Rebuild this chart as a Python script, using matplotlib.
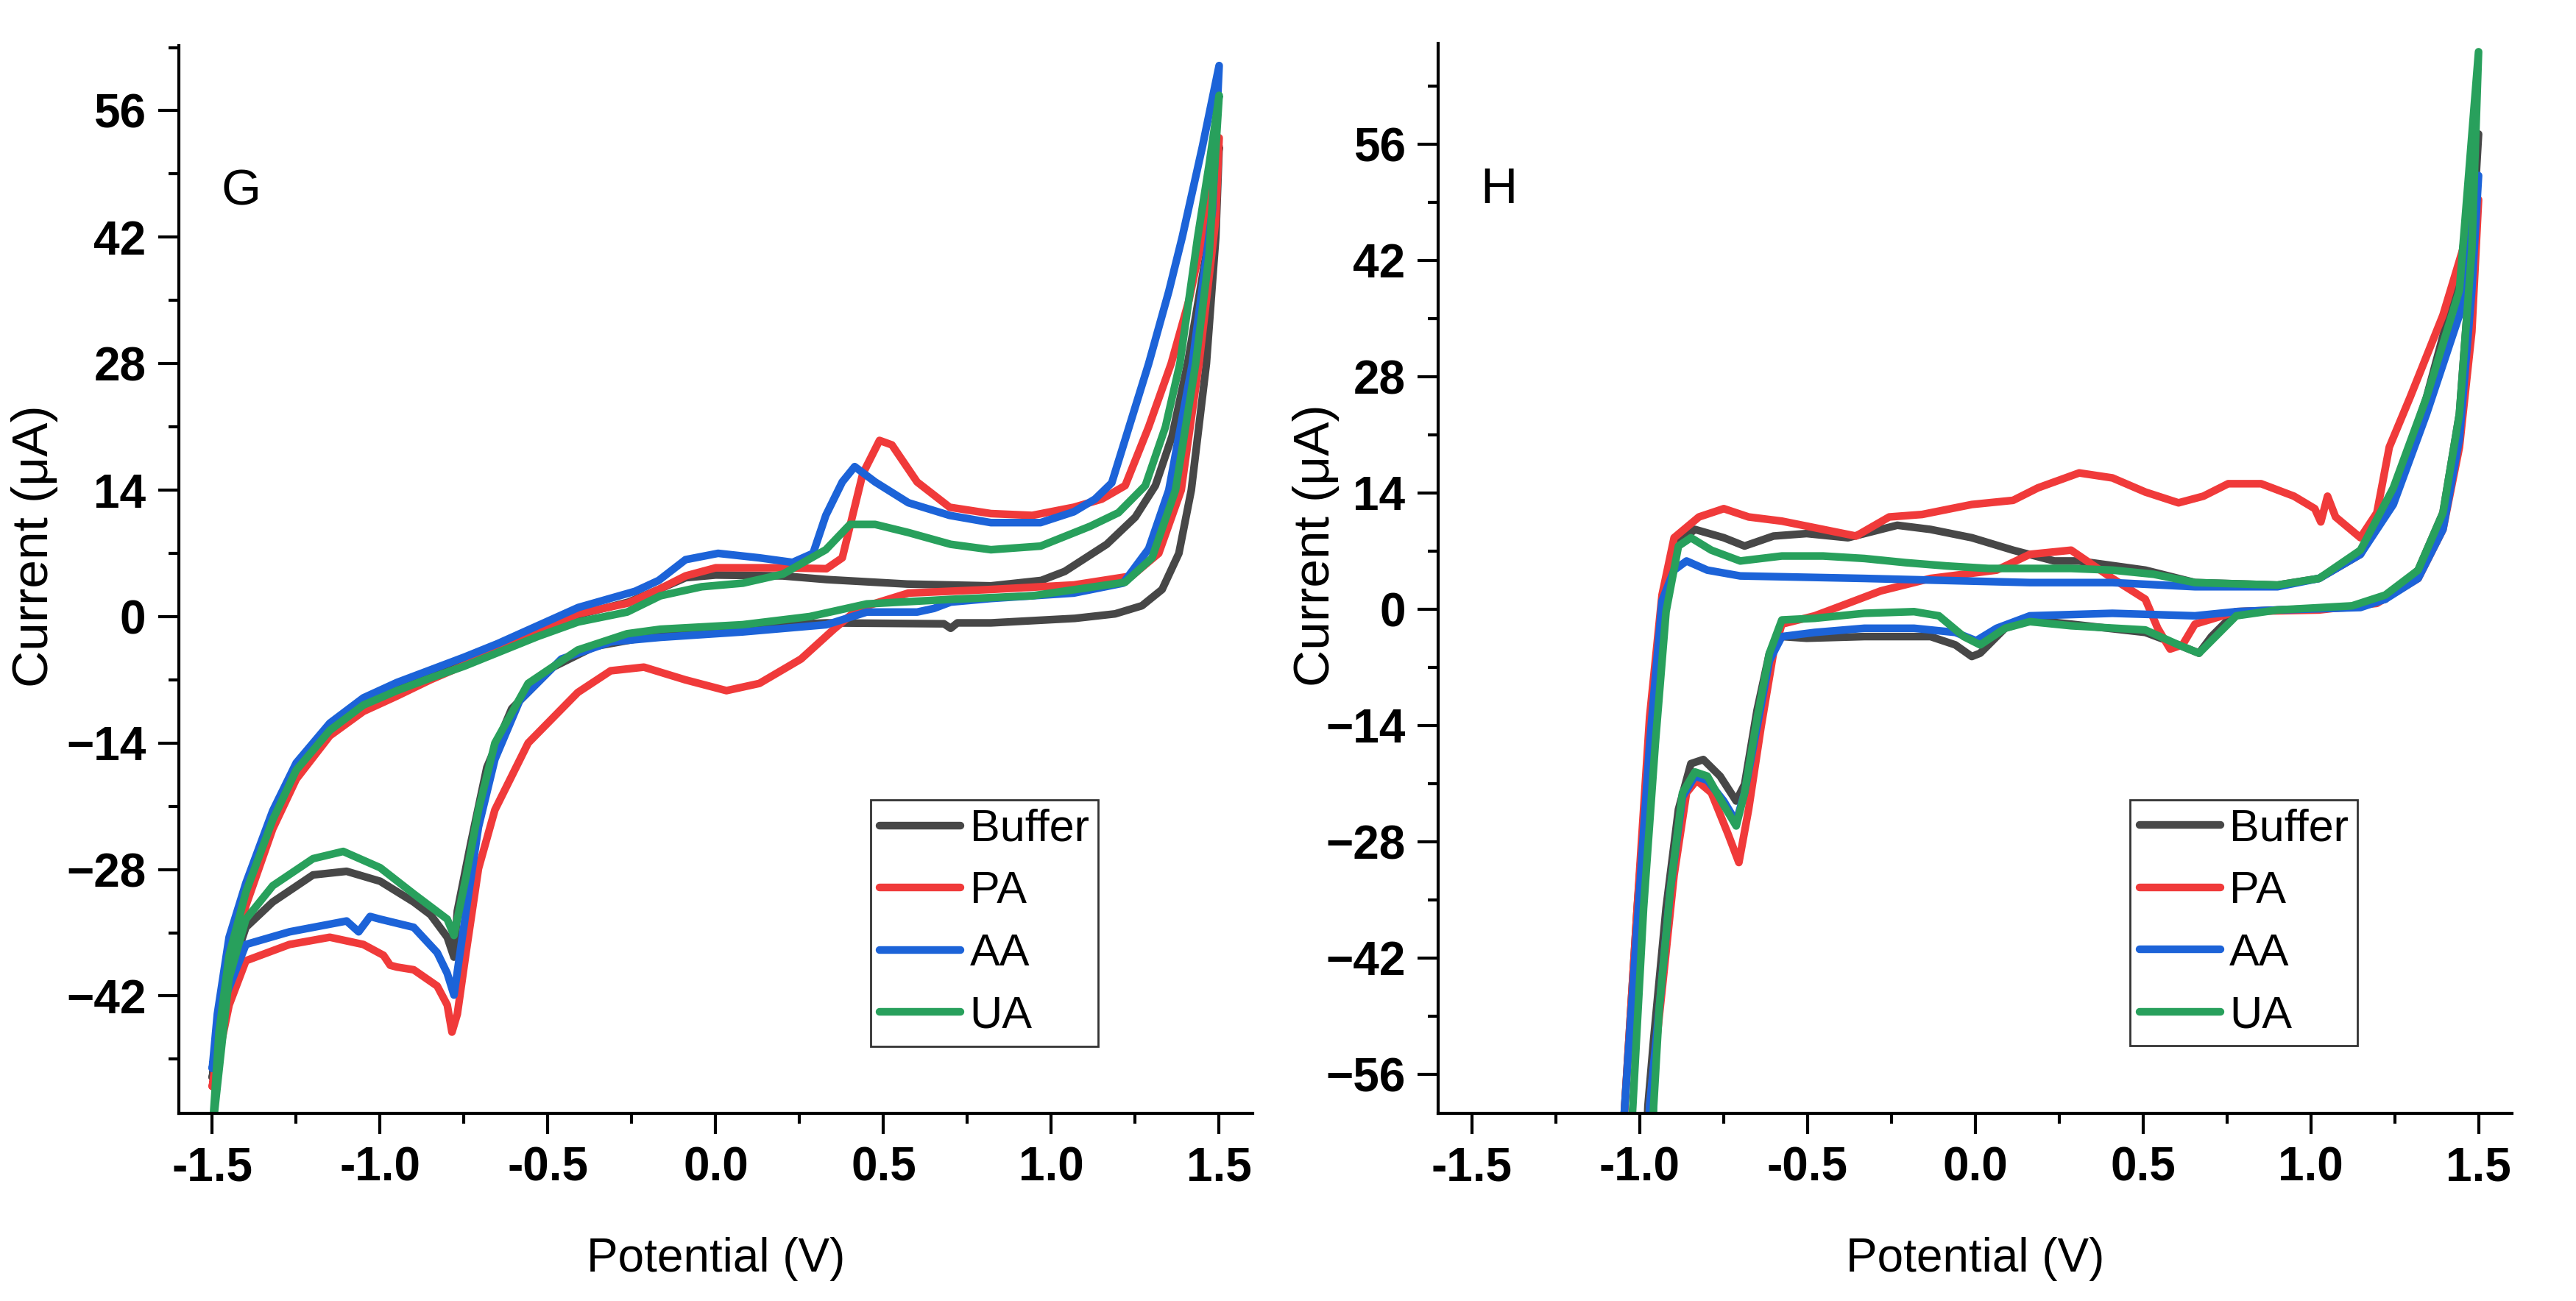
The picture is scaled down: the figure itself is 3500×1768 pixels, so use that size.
import matplotlib.pyplot as plt
from matplotlib.ticker import MultipleLocator, FormatStrFormatter

plt.rcParams['font.family'] = ['Liberation Sans Narrow', 'Liberation Sans', 'DejaVu Sans']

# ---- panel G : (potential V, current uA), traced as a closed loop ----
g_buffer_v = [-1.5, -1.48, -1.45, -1.4, -1.32, -1.25, -1.15, -1.05, -0.95, -0.85, -0.75, -0.65, -0.53, -0.41, -0.26,
              -0.17, -0.09, 0.0, 0.2, 0.33, 0.57, 0.82, 0.97, 1.04, 1.165, 1.25, 1.31, 1.36, 1.406, 1.47, 1.5,
              1.49, 1.462, 1.417, 1.38, 1.33, 1.27, 1.19, 1.07, 0.82, 0.72, 0.70, 0.68, 0.33, 0.08, -0.04,
              -0.21, -0.36, -0.485, -0.608, -0.682, -0.73, -0.77, -0.78, -0.8, -0.85, -0.90, -1.0, -1.10, -1.2,
              -1.32, -1.40, -1.45, -1.5]
g_buffer_i = [-51, -46, -38.5, -31, -22.5, -17, -12.4, -9.6, -7.8, -6.4, -5.0, -3.5, -1.6, 0.2, 1.6,
              3.0, 4.3, 4.6, 4.5, 4.1, 3.6, 3.4, 4.0, 5.0, 8.0, 11.0, 14.5, 20, 28, 42, 52,
              42, 28, 14, 7, 3.0, 1.2, 0.3, -0.2, -0.7, -0.7, -1.3, -0.8, -0.7, -1.1, -1.4,
              -2.3, -3.3, -5.6, -10.2, -16.7, -25.1, -32.6, -37.7, -35.5, -33, -31.6, -29.3, -28.2, -28.6,
              -31.6, -34.4, -40, -51]

g_pa_v = [-1.5, -1.48, -1.45, -1.4, -1.32, -1.25, -1.15, -1.05, -0.95, -0.85, -0.75, -0.65, -0.53, -0.41, -0.26,
          -0.17, -0.09, 0.0, 0.2, 0.33, 0.377, 0.438, 0.488, 0.525, 0.6, 0.697, 0.82, 0.943, 1.067, 1.15,
          1.22, 1.29, 1.357, 1.41, 1.45, 1.5,
          1.49, 1.44, 1.387, 1.32, 1.24, 1.067, 0.82, 0.574, 0.426, 0.352, 0.254, 0.13, 0.032, -0.091,
          -0.214, -0.313, -0.411, -0.559, -0.658, -0.707, -0.744, -0.77, -0.786, -0.80, -0.83, -0.90, -0.95,
          -0.97, -0.99, -1.05, -1.15, -1.27, -1.4, -1.45, -1.5]
g_pa_i = [-52, -47, -40, -32, -23.5, -18, -13.2, -10.5, -8.8, -7.0, -5.4, -3.6, -1.6, 0.3, 1.5,
          3.0, 4.5, 5.4, 5.4, 5.3, 6.5, 15.8, 19.5, 19, 14.9, 12.1, 11.4, 11.2, 12.1, 13.0,
          14.5, 21, 28, 35, 42, 53,
          44, 28, 14, 7, 4.5, 3.5, 3.0, 2.6, 0.9, -1.4, -4.7, -7.4, -8.2, -7.0,
          -5.6, -6.0, -8.4, -14, -21.4, -27.9, -37.2, -44, -46, -43, -40.9, -39.1, -38.8,
          -38.6, -37.5, -36.3, -35.5, -36.3, -38.1, -43, -52]

g_aa_v = [-1.5, -1.485, -1.45, -1.4, -1.32, -1.25, -1.15, -1.05, -0.95, -0.85, -0.75, -0.65, -0.53, -0.41, -0.24,
          -0.17, -0.09, 0.007, 0.13, 0.229, 0.29, 0.328, 0.377, 0.414, 0.475, 0.574, 0.697, 0.82, 0.968, 1.067,
          1.13, 1.18, 1.24, 1.29, 1.35, 1.39, 1.45, 1.5,
          1.48, 1.42, 1.35, 1.29, 1.214, 1.067, 0.82, 0.70, 0.65, 0.60, 0.45, 0.33, 0.08, -0.165, -0.313,
          -0.46, -0.584, -0.658, -0.707, -0.744, -0.78, -0.80, -0.83, -0.90, -1.0, -1.03, -1.064, -1.10, -1.27,
          -1.40, -1.46, -1.5]
g_aa_i = [-50, -44, -35.5, -29.5, -21.5, -16.2, -11.8, -9.0, -7.3, -5.9, -4.5, -3.0, -1.0, 1.0, 2.8,
          4.0, 6.3, 7.0, 6.5, 6.0, 7, 11.2, 14.9, 16.6, 14.9, 12.6, 11.2, 10.4, 10.4, 11.6,
          13, 14.8, 22, 28, 36, 42, 52, 61,
          45, 28, 14, 7.5, 3.7, 2.6, 2.0, 1.6, 0.9, 0.5, 0.5, -0.9, -1.7, -2.3, -2.8,
          -4.7, -9.3, -15.8, -23.3, -32.6, -41.9, -39.5, -37.2, -34.4, -33.5, -33.2, -34.9, -33.7, -34.9,
          -36.3, -42, -50]

g_ua_v = [-1.5, -1.48, -1.45, -1.4, -1.32, -1.25, -1.15, -1.05, -0.95, -0.85, -0.75, -0.65, -0.53, -0.41, -0.264,
          -0.165, -0.042, 0.081, 0.2, 0.328, 0.4, 0.475, 0.574, 0.70, 0.82, 0.968, 1.116, 1.2, 1.28, 1.34, 1.383,
          1.436, 1.47, 1.5,
          1.47, 1.43, 1.37, 1.30, 1.22, 0.943, 0.697, 0.45, 0.28, 0.08, -0.165, -0.264, -0.411, -0.559,
          -0.658, -0.707, -0.744, -0.78, -0.80, -0.90, -1.0, -1.11, -1.2, -1.32, -1.40, -1.45, -1.5]
g_ua_i = [-57, -46, -37.5, -30.5, -22.5, -17, -12.6, -9.8, -8.2, -6.8, -5.5, -4.0, -2.2, -0.6, 0.5,
          2.3, 3.3, 3.7, 4.7, 7.4, 10.2, 10.2, 9.3, 8.0, 7.4, 7.8, 10.0, 11.5, 14.5, 21, 28,
          42, 50, 57.7,
          40, 28, 14, 6.5, 3.8, 2.3, 1.9, 1.4, 0, -0.9, -1.4, -1.9, -3.7, -7.4,
          -14, -21.4, -28.8, -35.3, -33.5, -30.7, -27.8, -26, -26.8, -29.8, -33.5, -40, -57]

# ---- panel H ----
h_buffer_v = [-1.06, -1.044, -1.007, -0.97, -0.933, -0.897, -0.835, -0.749, -0.687, -0.601, -0.502, -0.379, -0.232,
              -0.133, -0.01, 0.113, 0.236, 0.31, 0.507, 0.655, 0.901, 1.025, 1.148, 1.246, 1.345, 1.443, 1.5,
              1.48, 1.443, 1.394, 1.32, 1.222, 1.123, 0.90, 0.778, 0.704, 0.667, 0.606, 0.507, 0.286, 0.163,
              0.089, 0.015, -0.01, -0.059, -0.133, -0.33, -0.502, -0.576, -0.613, -0.65, -0.687, -0.712, -0.76,
              -0.81, -0.847, -0.884, -0.921, -0.958, -0.975, -0.985]
h_buffer_i = [-70, -59.8, -36, -16.2, -1.3, 7.6, 9.6, 8.6, 7.6, 8.8, 9.1, 8.6, 10.1,
              9.6, 8.6, 7.1, 5.8, 5.8, 4.7, 3.2, 2.9, 3.7, 6.6, 13.6, 25.5, 40.3, 57.2,
              43.3, 23.5, 11.6, 4.7, 1.2, 0.2, -0.1, -0.3, -3.3, -5.3, -4.3, -2.8, -1.8, -1.3,
              -2.3, -5.3, -5.7, -4.3, -3.3, -3.3, -3.5, -3.3, -5.3, -12.2, -21.1, -23.1, -20.1,
              -18.1, -18.6, -24.1, -36, -51.8, -59.8, -70]

h_pa_v = [-1.06, -1.044, -1.007, -0.97, -0.933, -0.897, -0.823, -0.749, -0.675, -0.576, -0.453, -0.355, -0.256,
          -0.158, -0.01, 0.113, 0.187, 0.31, 0.409, 0.507, 0.606, 0.68, 0.754, 0.852, 0.95, 1.012, 1.03, 1.05,
          1.074, 1.148, 1.197, 1.234, 1.296, 1.394, 1.468, 1.5,
          1.48, 1.443, 1.394, 1.32, 1.197, 1.025, 0.778, 0.655, 0.618, 0.581, 0.544, 0.507, 0.409, 0.286,
          0.163, 0.064, -0.034, -0.133, -0.281, -0.379, -0.478, -0.576, -0.601, -0.638, -0.675, -0.704, -0.736,
          -0.786, -0.83, -0.86, -0.897, -0.933, -0.97, -0.98]
h_pa_i = [-70, -59.8, -36, -13, 1.7, 8.6, 11.1, 12.1, 11.1, 10.6, 9.6, 8.8, 11.1,
          11.4, 12.6, 13.1, 14.6, 16.4, 15.8, 14.1, 12.8, 13.6, 15.1, 15.1, 13.6, 12.1, 10.5, 13.6,
          11.1, 8.6, 11.6, 19.5, 25.5, 35.4, 45.3, 49.3,
          33.4, 19.5, 9.6, 3.7, 0.7, -0.1, -0.3, -1.8, -4.3, -4.8, -2.3, 1.2, 3.7, 7.1,
          6.6, 4.7, 4.2, 3.7, 2.2, 0.7, -0.8, -1.8, -5.3, -14.2, -24.1, -30.5, -27.1,
          -22.1, -20.6, -22.1, -32, -45.9, -59.8, -70]

h_aa_v = [-1.06, -1.044, -0.97, -0.933, -0.897, -0.86, -0.798, -0.7, -0.33, 0.163, 0.409, 0.655, 0.901, 1.025,
          1.148, 1.246, 1.345, 1.443, 1.5,
          1.48, 1.443, 1.394, 1.32, 1.222, 1.148, 0.90, 0.778, 0.655, 0.409, 0.163, 0.064, 0.003, -0.059,
          -0.182, -0.33, -0.478, -0.576, -0.613, -0.65, -0.687, -0.712, -0.749, -0.798, -0.835, -0.872, -0.909,
          -0.941, -0.97, -0.98]
h_aa_i = [-70, -59.8, -16.2, 1.0, 4.7, 5.8, 4.7, 4.0, 3.7, 3.2, 3.2, 2.7, 2.7, 3.7,
          6.6, 12.6, 23.5, 35.4, 52.2,
          38.4, 20.5, 9.6, 3.7, 1.2, 0.2, -0.1, -0.3, -0.8, -0.5, -0.8, -2.3, -3.8, -2.8,
          -2.3, -2.3, -2.8, -3.3, -6.2, -14.2, -22.1, -25.6, -23.1, -20.6, -20.1, -22.6, -34,
          -47.9, -59.8, -70]

h_ua_v = [-1.035, -1.02, -0.988, -0.953, -0.921, -0.884, -0.847, -0.786, -0.7, -0.576, -0.453, -0.33, -0.207,
          -0.084, 0.04, 0.286, 0.409, 0.532, 0.655, 0.901, 1.025, 1.148, 1.246, 1.345, 1.443, 1.5,
          1.48, 1.443, 1.394, 1.32, 1.222, 1.123, 0.90, 0.778, 0.704, 0.667, 0.606, 0.507, 0.286, 0.163,
          0.089, 0.015, -0.034, -0.108, -0.182, -0.33, -0.478, -0.576, -0.613, -0.65, -0.687, -0.712, -0.749,
          -0.798, -0.835, -0.872, -0.909, -0.941, -0.958, -0.965]
h_ua_i = [-70, -59.8, -36, -16.2, -0.3, 7.6, 8.6, 7.1, 5.8, 6.4, 6.4, 6.1, 5.6,
          5.2, 4.9, 4.9, 4.7, 4.2, 3.2, 2.9, 3.7, 7.1, 14.6, 25.5, 38.4, 67.1,
          43.3, 23.5, 11.6, 4.7, 1.7, 0.4, -0.1, -0.8, -3.8, -5.3, -4.3, -2.5, -2.0, -1.5,
          -2.3, -4.3, -3.3, -0.8, -0.3, -0.5, -1.1, -1.3, -5.3, -13.2, -22.1, -26.1, -23.6,
          -20.1, -19.6, -22.1, -34, -47.9, -59.8, -70]

labels = ['Buffer', 'PA', 'AA', 'UA']
colors = ['#474747', '#f03a3a', '#1c63d8', '#28a05c']

fig = plt.figure(figsize=(35, 17.68), dpi=100)
ax1 = fig.add_axes([0.0694, 0.1442, 0.4169, 0.8207])
ax2 = fig.add_axes([0.5583, 0.1442, 0.4169, 0.8224])

panels = [
    (ax1, [(g_buffer_v, g_buffer_i), (g_pa_v, g_pa_i), (g_aa_v, g_aa_i), (g_ua_v, g_ua_i)],
     (-55, 63.2), [-42, -28, -14, 0, 14, 28, 42, 56], 'G', -1.415, 47.0, -0.112),
    (ax2, [(h_buffer_v, h_buffer_i), (h_pa_v, h_pa_i), (h_aa_v, h_aa_i), (h_ua_v, h_ua_i)],
     (-60.7, 68.1), [-56, -42, -28, -14, 0, 14, 28, 42, 56], 'H', -1.42, 50.5, -0.092),
]

for ax, series, ylim, yt, tag, tx, ty, ylx in panels:
    for (v, i), lab, c in zip(series, labels, colors):
        ax.plot(v, i, color=c, lw=7.5, label=lab, solid_joinstyle='round', solid_capstyle='round')
    ax.set_xlim(-1.6, 1.6)
    ax.set_ylim(*ylim)
    ax.set_xticks([-1.5, -1.0, -0.5, 0.0, 0.5, 1.0, 1.5])
    ax.xaxis.set_minor_locator(MultipleLocator(0.25))
    ax.xaxis.set_major_formatter(FormatStrFormatter('%.1f'))
    ax.set_yticks(yt)
    ax.yaxis.set_minor_locator(MultipleLocator(7))
    for s in ['top', 'right']:
        ax.spines[s].set_visible(False)
    for s in ['left', 'bottom']:
        ax.spines[s].set_linewidth(3)
    ax.tick_params(which='major', direction='out', length=20, width=3, pad=12, labelsize=46)
    ax.tick_params(which='minor', direction='out', length=10, width=3)
    for t in ax.get_xticklabels() + ax.get_yticklabels():
        t.set_fontweight('bold')
    ax.set_xlabel('Potential (V)', fontsize=46, labelpad=46)
    ax.set_ylabel('Current (μA)', fontsize=50)
    ax.yaxis.set_label_coords(ylx, 0.531)
    ax.text(tx, ty, tag, fontsize=50, ha='center', va='center')
    leg = ax.legend(loc='lower right', bbox_to_anchor=(0.856, 0.063), fontsize=44, frameon=True,
                    fancybox=False, edgecolor='black', handlelength=1.8, handletextpad=0.2,
                    labelspacing=0.45, borderpad=0.2, borderaxespad=0)
    leg.get_frame().set_linewidth(2)
    for h in leg.get_lines():
        h.set_linewidth(7.5)

fig.savefig('out.png', dpi=100, facecolor='white')
